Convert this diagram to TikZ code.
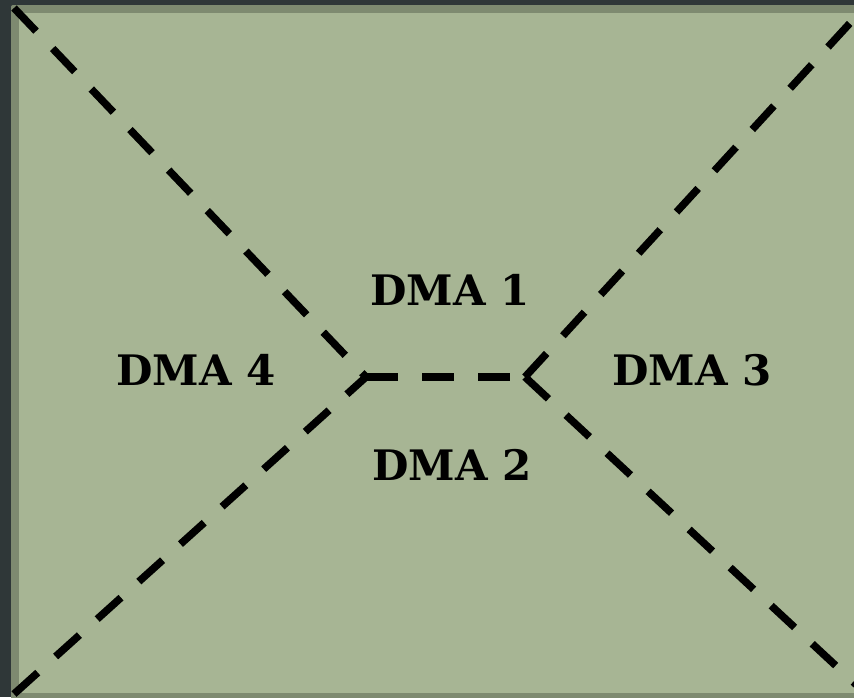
\documentclass[tikz,border=0pt]{standalone}
\usepackage{tikz}
\usepackage{fontspec}
\newfontfamily\zonefont{DejaVu Serif}
\definecolor{bgdark}{HTML}{2F3738}
\definecolor{panelfill}{HTML}{A7B594}
\definecolor{panelrim}{HTML}{7E8A70}
\begin{document}
\begin{tikzpicture}[x=1pt,y=-1pt,
  divider/.style={line width=7.5pt,dash pattern=on 32pt off 24pt},
  zonelabel/.style={font=\zonefont\fontsize{42}{42}\selectfont\bfseries,inner sep=0pt,anchor=center}]
  % dark backdrop
  \fill[bgdark] (0,0) rectangle (854,697);
  \useasboundingbox (0,0) rectangle (854,697);
  % panel with its rim
  \fill[panelrim,rounded corners=2pt] (11,5) rectangle (870,705);
  \fill[panelfill] (19,13) rectangle (870,693);
  % junction points
  \coordinate (cl) at (366,377);
  \coordinate (cr) at (525,377);
  \coordinate (tl) at (14,8);
  \coordinate (bl) at (14,694);
  \coordinate (tr) at (862,10);
  \coordinate (br) at (862,690);
  % dashed dividers
  \begin{scope}
    \clip (11,5) rectangle (854,697);
    \draw[divider] (tl) -- (cl);
    \draw[divider] (bl) -- (cl);
    \draw[divider] (cl) -- (cr);
    \draw[divider] (cr) -- (tr);
    \draw[divider] (cr) -- (br);
  \end{scope}
  % zone labels
  \node[zonelabel] (d1) at (450,290) {DMA 1};
  \node[zonelabel] (d2) at (452,465) {DMA 2};
  \node[zonelabel] (d3) at (692,370) {DMA 3};
  \node[zonelabel] (d4) at (196,370) {DMA 4};
\end{tikzpicture}
\end{document}
